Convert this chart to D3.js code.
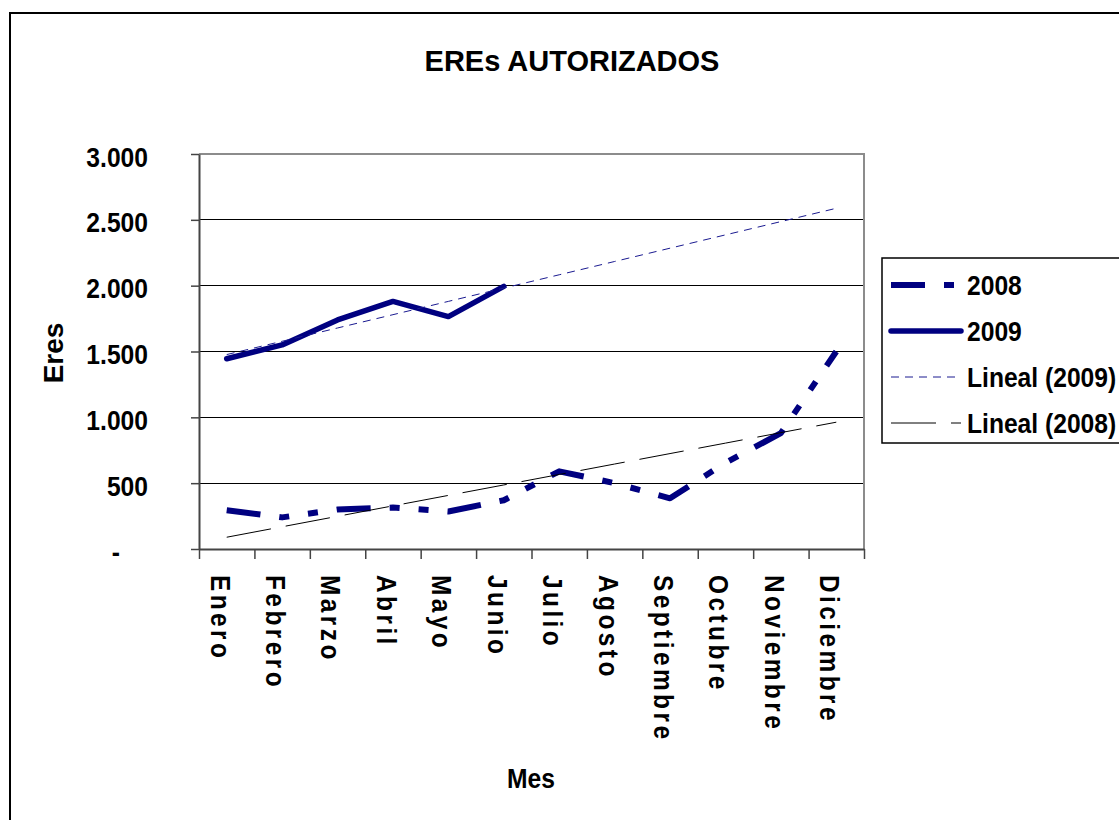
<!DOCTYPE html>
<html>
<head>
<meta charset="utf-8">
<script src="https://cdn.jsdelivr.net/npm/d3@7"></script>
<style>
  html, body { margin: 0; padding: 0; background: #fff; }
  svg { display: block; }
  text { font-family: "Liberation Sans", Arial, sans-serif; font-weight: bold; fill: #000; }
</style>
</head>
<body>
<svg id="chart" width="1119" height="820"></svg>
<script>
// ---- Data ----
const months = ["Enero", "Febrero", "Marzo", "Abril", "Mayo", "Junio", "Julio",
                "Agosto", "Septiembre", "Octubre", "Noviembre", "Diciembre"];
const values2008 = [295, 240, 300, 315, 285, 370, 590, 500, 385, 655, 880, 1500];
const values2009 = [1445, 1550, 1740, 1880, 1765, 1995];
const yTicks = [0, 500, 1000, 1500, 2000, 2500, 3000];
const legendNames = ["2008", "2009", "Lineal (2009)", "Lineal (2008)"];
const titleText = "EREs AUTORIZADOS";
const xTitle = "Mes";
const yTitle = "Eres";

// ---- Helpers ----
function linearFit(vals) {
  // Least-squares trend (Excel "Lineal" trendline), x = 1..n
  const xs = vals.map((_, i) => i + 1);
  const mx = d3.mean(xs), my = d3.mean(vals);
  let sxy = 0, sxx = 0;
  xs.forEach((x, i) => { sxy += (x - mx) * (vals[i] - my); sxx += (x - mx) * (x - mx); });
  const b = sxy / sxx, a = my - b * mx;
  return k => a + b * k;
}

const SX = 0.88; // horizontal compression of the reference's text
const svg = d3.select("#chart");
const L = 199, R = 864, T = 154, B = 549;

svg.append("rect").attr("width", 1119).attr("height", 820).attr("fill", "#fff");
// outer chart border
svg.append("rect").attr("x", 10).attr("y", 13).attr("width", 1300).attr("height", 1000)
  .attr("fill", "none").attr("stroke", "#000").attr("stroke-width", 2);

const x = d3.scaleBand().domain(months).range([L, R]).padding(0);
const xc = m => x(m) + x.bandwidth() / 2;
const xTickScale = d3.scaleLinear().domain([0, months.length]).range([L, R]);
const y = d3.scaleLinear().domain([0, 3000]).range([B, T]);

const fmtLocale = d3.formatLocale({ decimal: ",", thousands: ".", grouping: [3], currency: ["", "€"] });
const fmt = fmtLocale.format(",d");

// gridlines
svg.append("g").selectAll("line").data(yTicks.filter(v => v > 0 && v < 3000)).join("line")
  .attr("x1", L).attr("x2", R).attr("y1", d => y(d)).attr("y2", d => y(d))
  .attr("stroke", "#000").attr("stroke-width", 1).attr("shape-rendering", "crispEdges");

// plot border top/right (grey)
svg.append("path").attr("d", `M${L},${T}H${R}V${B}`)
  .attr("fill", "none").attr("stroke", "#8c8c8c").attr("stroke-width", 2);

// Y axis
const yAxis = svg.append("g").attr("transform", `translate(${L},0)`)
  .call(d3.axisLeft(y).tickValues(yTicks).tickSize(8).tickSizeOuter(0)
    .tickFormat(d => d === 0 ? "-" : fmt(d)));
yAxis.attr("font-family", null).attr("font-size", null);
yAxis.select(".domain").attr("stroke", "#444").attr("stroke-width", 2);
yAxis.selectAll(".tick line").attr("stroke", "#444").attr("stroke-width", 1.5);
yAxis.selectAll(".tick text")
  .attr("x", null).attr("dy", null)
  .attr("transform", d => `translate(${d === 0 ? -79 : -51},12) scale(${SX},1)`)
  .attr("font-size", 28);

// X axis (ticks at category boundaries)
const xAxis = svg.append("g").attr("transform", `translate(0,${B})`)
  .call(d3.axisBottom(xTickScale).ticks(months.length).tickSize(10).tickSizeOuter(0).tickFormat(""));
xAxis.select(".domain").attr("stroke", "#444").attr("stroke-width", 2);
xAxis.selectAll(".tick line").attr("stroke", "#444").attr("stroke-width", 1.5);

// X labels rotated
svg.append("g").selectAll("text").data(months).join("text")
  .attr("transform", d => `translate(${xc(d) - 6},575) rotate(90) scale(${SX - 0.01},1)`)
  .attr("dy", "0.36em").attr("font-size", 28).attr("letter-spacing", 4)
  .text(d => d);

// Lines
const line = d3.line().x(d => xc(d.m)).y(d => y(d.v));
const d2008 = values2008.map((v, i) => ({ m: months[i], v }));
const d2009 = values2009.map((v, i) => ({ m: months[i], v }));
const fit2009 = linearFit(values2009), fit2008 = linearFit(values2008);
const t2009 = months.map((m, i) => ({ m, v: fit2009(i + 1) }));
const t2008 = months.map((m, i) => ({ m, v: fit2008(i + 1) }));

const styles = {
  "2008": { stroke: "#000080", width: 6, dash: "34,19,10,19,10,19", cap: "butt" },
  "2009": { stroke: "#000080", width: 5.5, dash: null, cap: "round" },
  "Lineal (2009)": { stroke: "#1a1a90", width: 1, dash: "8,6", cap: "butt" },
  "Lineal (2008)": { stroke: "#000", width: 1, dash: "45,15", cap: "butt" }
};
function styleLine(sel, name) {
  const s = styles[name];
  sel.attr("fill", "none").attr("stroke", s.stroke).attr("stroke-width", s.width)
    .attr("stroke-dasharray", s.dash).attr("stroke-linecap", s.cap).attr("stroke-linejoin", "round");
}
svg.append("path").datum(d2008).attr("d", line).call(styleLine, "2008");
svg.append("path").datum(d2009).attr("d", line).call(styleLine, "2009");
svg.append("path").datum(t2009).attr("d", line).call(styleLine, "Lineal (2009)");
svg.append("path").datum(t2008).attr("d", line).call(styleLine, "Lineal (2008)");

// Legend
const lg = svg.append("g");
lg.append("rect").attr("x", 882).attr("y", 258).attr("width", 400).attr("height", 185)
  .attr("fill", "#fff").attr("stroke", "#000").attr("stroke-width", 1.5);
legendNames.forEach((name, i) => {
  const cy = 285 + i * 46;
  lg.append("line").attr("x1", 891).attr("x2", 961).attr("y1", cy).attr("y2", cy).call(styleLine, name);
  lg.append("text").attr("transform", `translate(967,${cy + 10}) scale(${SX},1)`)
    .attr("font-size", 28).text(name);
});

// Titles
svg.append("text").attr("x", 572).attr("y", 71).attr("text-anchor", "middle")
  .attr("font-size", 29).text(titleText);
svg.append("text").attr("transform", `translate(531,788) scale(${SX},1)`).attr("text-anchor", "middle")
  .attr("font-size", 28).text(xTitle);
svg.append("text").attr("transform", "translate(63,353) rotate(-90)").attr("text-anchor", "middle")
  .attr("font-size", 28).text(yTitle);
</script>
</body>
</html>
